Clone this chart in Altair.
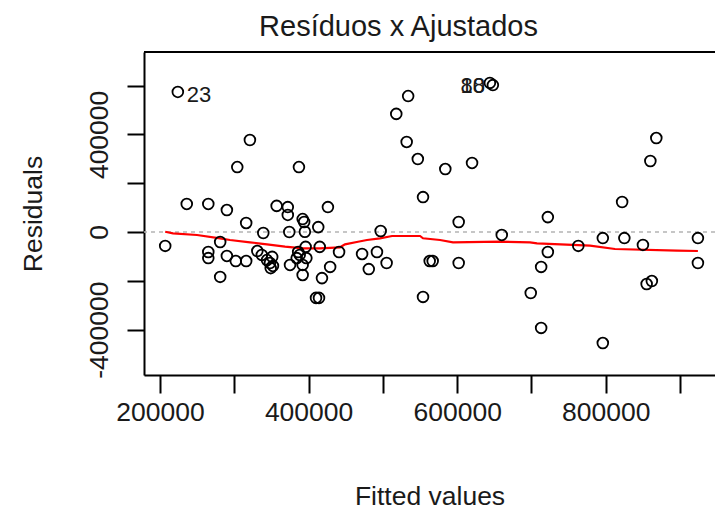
import altair as alt
import pandas as pd

# Fitted values and residuals
fitted = [224000, 321000, 304000, 387000, 236000, 265000, 290000, 357000, 372000, 372000,
          426000, 316000, 392000, 394000, 413000, 374000, 339000, 395000, 207000, 281000,
          265000, 265000, 290000, 302000, 316000, 331000, 337000, 351000, 348000, 352000,
          349000, 344000, 375000, 386000, 388000, 384000, 396000, 397000, 392000, 392000,
          415000, 429000, 418000, 281000, 410000, 414000, 534000, 518000, 532000, 547000,
          584000, 620000, 554000, 602000, 644000, 648000, 497000, 660000, 441000, 472000,
          492000, 481000, 505000, 563000, 567000, 602000, 554000, 868000, 860000, 822000,
          722000, 722000, 763000, 796000, 825000, 850000, 924000, 924000, 713000, 699000,
          855000, 862000, 713000, 796000]
residuals = [574000, 377000, 266000, 266000, 115000, 115000, 90000, 107000, 102000, 70000,
             102000, 37000, 53000, 41000, 20000, 0, -4000, 1000, -57000, -41000,
             -82000, -107000, -98000, -119000, -119000, -78000, -94000, -102000, -127000, -139000,
             -148000, -115000, -135000, -82000, -94000, -107000, -61000, -107000, -135000, -176000,
             -61000, -143000, -189000, -184000, -270000, -270000, 557000, 484000, 369000, 299000,
             258000, 283000, 143000, 41000, 611000, 602000, 4000, -12000, -82000, -90000,
             -82000, -152000, -127000, -119000, -119000, -127000, -266000, 385000, 291000, 123000,
             61000, -82000, -57000, -25000, -25000, -53000, -25000, -127000, -143000, -250000,
             -213000, -201000, -393000, -455000]

# Smoothed (lowess) curve
smooth_x = [207000, 217500, 249800, 280800, 294200, 321100, 344000, 368300, 392500, 415400,
            442300, 449000, 466500, 478600, 496100, 512300, 550000, 554000, 576900, 594400,
            657600, 698000, 707400, 778800, 812400, 895900, 924000]
smooth_y = [1000, -5300, -12300, -25800, -32800, -42200, -50400, -60200, -66800, -66800,
            -62700, -50400, -39800, -32800, -25800, -16400, -16400, -25800, -32800, -42200,
            -39800, -42200, -46300, -56100, -69700, -76600, -77900]

# Labelled observations
label_text = ["23", "18", "80"]
label_x = [224000, 644000, 644000]
label_y = [574000, 611000, 611000]
label_side = ["right", "left", "left"]

x_ticks = [200000, 300000, 400000, 500000, 600000, 700000, 800000, 900000]
y_ticks = [-400000, -200000, 0, 200000, 400000, 600000]

W, H = 571, 323
FONT = "Liberation Sans"
TXT = "#1a1a1a"

pts = pd.DataFrame({"fitted": fitted, "resid": residuals})
smo = pd.DataFrame({"fitted": smooth_x, "resid": smooth_y})
lab = pd.DataFrame({"fitted": label_x, "resid": label_y, "label": label_text, "side": label_side})
zero = pd.DataFrame({"resid": [0]})

xs = alt.Scale(domain=[178460, 947000], nice=False, zero=False)
ys = alt.Scale(domain=[-586000, 737600], nice=False, zero=False)

xaxis = alt.Axis(
    title="Fitted values", values=x_ticks, grid=False,
    labelExpr="datum.value % 200000 == 0 ? datum.value : ''",
    tickSize=18, tickWidth=2, tickColor="#000", domainColor="#000", domainWidth=2,
    labelFont=FONT, labelFontSize=26.5, labelColor=TXT, labelBaseline="alphabetic",
    labelPadding=27, labelFlush=False, labelOverlap=False,
    titleFont=FONT, titleFontSize=26.5, titleFontWeight="normal", titleColor=TXT,
    titleBaseline="alphabetic", titleY=129,
)
yaxis = alt.Axis(
    title="Residuals", values=y_ticks, grid=False,
    labelExpr="datum.value % 400000 == 0 ? datum.value : ''",
    tickSize=17, tickWidth=2, tickColor="#000", domainColor="#000", domainWidth=2,
    labelFont=FONT, labelFontSize=26.5, labelColor=TXT, labelAngle=270,
    labelAlign="center", labelBaseline="alphabetic", labelPadding=20,
    labelFlush=False, labelOverlap=False,
    titleFont=FONT, titleFontSize=26.5, titleFontWeight="normal", titleColor=TXT,
    titleBaseline="alphabetic", titleAngle=270, titleX=-103, titleAlign="center",
)

base_x = alt.X("fitted:Q", scale=xs, axis=xaxis)
base_y = alt.Y("resid:Q", scale=ys, axis=yaxis)

zero_line = alt.Chart(zero).mark_rule(color="#b4b4b4", strokeDash=[4, 4], strokeWidth=1.6).encode(
    y=alt.Y("resid:Q", scale=ys, axis=yaxis)
)
top_line = alt.Chart(zero).mark_rule(color="#000", strokeWidth=2).encode(
    x=alt.value(0), x2=alt.value(W + 5), y=alt.value(0)
)
points = alt.Chart(pts).mark_point(shape="circle", filled=False, color="#000",
                                   strokeWidth=1.8, size=115, opacity=1).encode(x=base_x, y=base_y)
smooth = alt.Chart(smo).mark_line(color="#ff0000", strokeWidth=2.2).encode(
    x=base_x, y=base_y, order="fitted:Q"
)
lab_r = alt.Chart(lab).transform_filter(alt.datum.side == "right").mark_text(
    align="left", baseline="middle", dx=9, dy=3, font=FONT, fontSize=22, color=TXT
).encode(x=base_x, y=base_y, text="label:N")
lab_l = alt.Chart(lab).transform_filter(alt.datum.side == "left").mark_text(
    align="right", baseline="middle", dx=-5, dy=3, font=FONT, fontSize=22, color=TXT
).encode(x=base_x, y=base_y, text="label:N")

chart = alt.layer(zero_line, smooth, points, lab_r, lab_l, top_line).properties(
    width=W, height=H,
    title=alt.TitleParams("Resíduos x Ajustados", font=FONT, fontSize=29, fontWeight="normal",
                          color=TXT, anchor="middle", dx=-31, dy=29, baseline="alphabetic", offset=15),
    autosize=alt.AutoSizeParams(type="none"),
    padding={"left": 144, "top": 52, "right": 0, "bottom": 134},
).configure_view(stroke=None).configure(background="white")

chart.save("out.html", embed_options={"renderer": "svg", "actions": False})
